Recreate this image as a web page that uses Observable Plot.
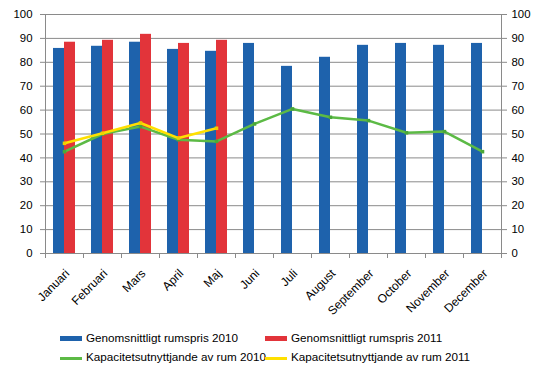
<!DOCTYPE html>
<html><head><meta charset="utf-8">
<script src="https://cdn.jsdelivr.net/npm/d3@7"></script>
<script src="https://cdn.jsdelivr.net/npm/@observablehq/plot@0.6"></script>
<style>
body{margin:0;background:#fff;font-family:"Liberation Sans",Arial,sans-serif;}
#chart{position:relative;width:546px;height:376px;overflow:hidden;}
#chart svg{position:absolute;left:0;top:0;}
.lg{position:absolute;font-size:11.7px;color:#000;line-height:14px;white-space:nowrap;}
.sw{position:absolute;}
</style></head><body><div id="chart"></div>
<script>
const months = ["Januari","Februari","Mars","April","Maj","Juni","Juli","August","September","October","November","December"];
const price2010 = [85.8, 86.7, 88.4, 85.4, 84.6, 87.9, 78.3, 82.1, 87.1, 87.9, 87.1, 87.9];
const price2011 = [88.4, 89.2, 91.7, 87.9, 89.2];
const occ2010 = [42.6, 50.0, 53.1, 47.6, 46.9, 54.2, 60.5, 57.0, 55.6, 50.5, 51.0, 42.6];
const occ2011 = [46.1, 50.3, 54.6, 48.3, 52.4];
const yTicks = [0,10,20,30,40,50,60,70,80,90,100];
const seriesNames = ["Genomsnittligt rumspris 2010","Genomsnittligt rumspris 2011","Kapacitetsutnyttjande av rum 2010","Kapacitetsutnyttjande av rum 2011"];
const colors = ["#1e62ac","#e2343a","#5cba45","#ffe000"];

const toRows = arr => arr.map((v,i)=>({month:months[i], value:v}));
const p10 = toRows(price2010), p11 = toRows(price2011), o10 = toRows(occ2010), o11 = toRows(occ2011);
const grid = "#8a8a8a";
const fontCss = "font-family:'Liberation Sans',Arial,sans-serif;font-size:11px;";

const plot = Plot.plot({
  width:546, height:320,
  marginTop:14, marginBottom:67, marginLeft:45, marginRight:45,
  style: fontCss + "background:#fff;color:#000;",
  x:{type:"band", domain:months, padding:0, axis:null, label:null},
  y:{domain:[0,100], axis:null, label:null},
  marks:[
    Plot.ruleY(yTicks, {stroke:grid, strokeWidth:1}),
    Plot.barY(p10, {x:"month", y:"value", fill:colors[0], insetLeft:8, insetRight:19}),
    Plot.barY(p11, {x:"month", y:"value", fill:colors[1], insetLeft:19, insetRight:8}),
    Plot.ruleX(months, {dx:-19, y1:0, y2:0, insetBottom:-5, stroke:grid}),
    Plot.ruleX([months[11]], {dx:19, y1:0, y2:0, insetBottom:-5, stroke:grid}),
    Plot.ruleX([months[0]], {dx:-19, y1:0, y2:100, stroke:grid}),
    Plot.ruleX([months[11]], {dx:19, y1:0, y2:100, stroke:grid}),
    Plot.lineY(o10, {x:"month", y:"value", stroke:colors[2], strokeWidth:2.5}),
    Plot.dot(o10, {x:"month", y:"value", fill:"#4aa838", symbol:"square", r:2}),
    Plot.lineY(o11, {x:"month", y:"value", stroke:colors[3], strokeWidth:2.5}),
    Plot.dot(o11, {x:"month", y:"value", fill:"#f0d000", symbol:"square", r:2}),
    Plot.axisY(yTicks, {anchor:"left", tickSize:5, tickPadding:8, stroke:grid, fontSize:11.4, tickFormat:d=>d, label:null}),
    Plot.axisY(yTicks, {anchor:"right", tickSize:5, tickPadding:5, stroke:grid, fontSize:11.4, tickFormat:d=>d, label:null}),
    Plot.axisX(months, {anchor:"bottom", tickSize:0, tickRotate:-45, tickPadding:18, dx:3, fontSize:12, textAnchor:"end", label:null})
  ]
});
const chart = document.getElementById("chart");
chart.appendChild(plot);

const legendPos = [[60,339],[265,339],[60,358],[265,358]];
seriesNames.forEach((name,i)=>{
  const [x,y] = legendPos[i];
  const sw = document.createElement("div");
  sw.className = "sw";
  if (i < 2) {
    sw.style.cssText = `left:${x}px;top:${y-3}px;width:22px;height:5px;background:${colors[i]};`;
  } else {
    sw.style.cssText = `left:${x}px;top:${y-1}px;width:22px;height:3px;background:${colors[i]};`;
  }
  chart.appendChild(sw);
  const t = document.createElement("div");
  t.className = "lg";
  t.style.left = (x+26)+"px";
  t.style.top = (y-8)+"px";
  t.textContent = name;
  chart.appendChild(t);
});
</script></body></html>
